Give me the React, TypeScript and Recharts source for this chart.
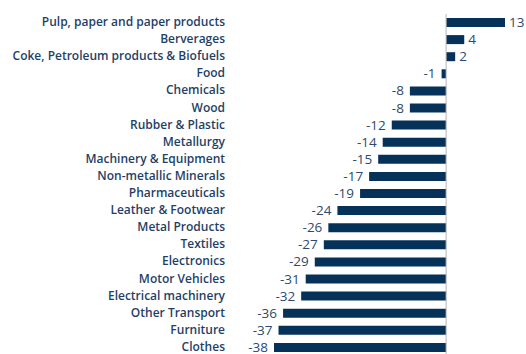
import { BarChart, Bar, XAxis, YAxis, ReferenceLine, LabelList } from 'recharts';

const sectors = [
  'Pulp, paper and paper products',
  'Berverages',
  'Coke, Petroleum products & Biofuels',
  'Food',
  'Chemicals',
  'Wood',
  'Rubber & Plastic',
  'Metallurgy',
  'Machinery & Equipment',
  'Non-metallic Minerals',
  'Pharmaceuticals',
  'Leather & Footwear',
  'Metal Products',
  'Textiles',
  'Electronics',
  'Motor Vehicles',
  'Electrical machinery',
  'Other Transport',
  'Furniture',
  'Clothes',
];

const changes = [13, 4, 2, -1, -8, -8, -12, -14, -15, -17, -19, -24, -26, -27, -29, -31, -32, -36, -37, -38];

const data = sectors.map((name, i) => ({ name, value: changes[i] }));

const BAR = '#06325a';
const TEXT = '#1f3f66';

// value label sits just outside the end of each bar
const ValueLabel = (props: any) => {
  const { x, y, width, height, value } = props;
  const end = value < 0 ? Math.min(x, x + width) : Math.max(x, x + width);
  const cy = y + height / 2;
  return (
    <text
      x={value < 0 ? end - 6 : end + 4}
      y={cy}
      dy={4.5}
      textAnchor={value < 0 ? 'end' : 'start'}
      fill="#2d4a6e"
      fontSize={13.5}
      fontFamily="Open Sans"
    >
      {value}
    </text>
  );
};

const CategoryTick = (props: any) => {
  const { y, payload } = props;
  return (
    <text
      x={225}
      y={y}
      dy={3.5}
      textAnchor="end"
      fill={TEXT}
      fontSize={12}
      fontWeight={600}
      fontFamily="Open Sans"
    >
      {payload.value}
    </text>
  );
};

export default function App() {
  return (
    <div style={{ position: 'absolute', left: 0, top: 0, background: '#fff' }}>
      <BarChart
        width={526}
        height={360}
        data={data}
        layout="vertical"
        margin={{ top: 14, right: 21, left: 0, bottom: 4 }}
        barSize={9}
      >
        <XAxis type="number" domain={[-38, 13]} hide />
        <YAxis
          type="category"
          dataKey="name"
          width={274}
          tickLine={false}
          axisLine={false}
          tick={<CategoryTick />}
          interval={0}
        />
        <ReferenceLine x={0} stroke="#b5b5b5" strokeWidth={1} />
        <Bar dataKey="value" fill={BAR} isAnimationActive={false}>
          <LabelList dataKey="value" content={<ValueLabel />} />
        </Bar>
      </BarChart>
    </div>
  );
}
